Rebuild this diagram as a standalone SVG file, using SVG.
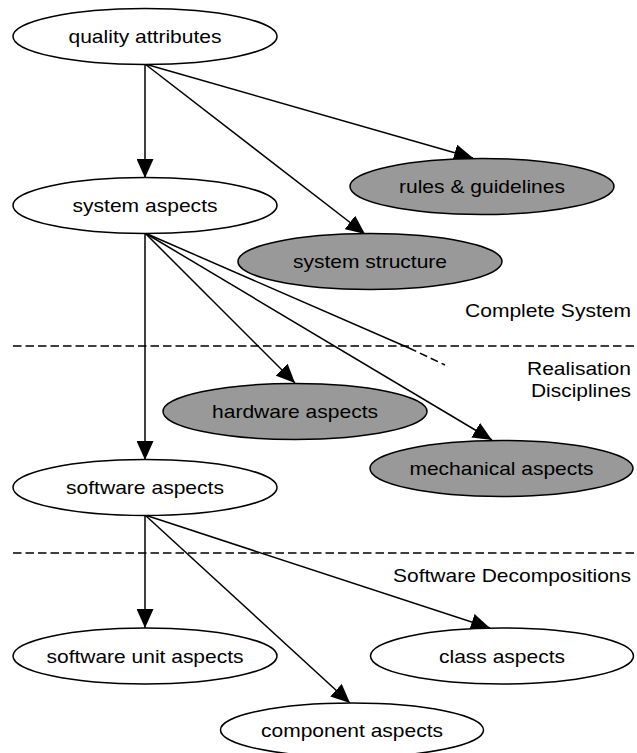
<svg xmlns="http://www.w3.org/2000/svg" width="637" height="753" viewBox="0 0 637 753">
  <style>
    .node ellipse { stroke: #000; stroke-width: 1.5; }
    .plain ellipse { fill: #fff; }
    .shaded ellipse { fill: #999; }
    text { font-family: "Liberation Sans", Arial, sans-serif; font-size: 19px; fill: #000; }
    .node text { text-anchor: middle; }
    .label { text-anchor: end; }
    .edge { stroke: #000; stroke-width: 1.5; fill: none; marker-end: url(#arrow); }
    .sep { stroke: #000; stroke-width: 1.5; stroke-dasharray: 8.5 4; fill: none; }
  </style>
  <defs>
    <marker id="arrow" markerUnits="userSpaceOnUse" viewBox="0 0 19 17" refX="19" refY="8.5" markerWidth="19" markerHeight="17" orient="auto">
      <path d="M0,0 L19,8.5 L0,17 z" fill="#000"/>
    </marker>
  </defs>

  <rect width="637" height="753" fill="#fff"/>

  <!-- layer separators -->
  <g id="separators">
    <line class="sep" x1="13" y1="346" x2="637" y2="346"/>
    <line class="sep" x1="13" y1="553" x2="637" y2="553"/>
  </g>

  <!-- layer labels -->
  <g id="layer-labels">
    <text class="label" x="631" y="317" textLength="166" lengthAdjust="spacingAndGlyphs">Complete System</text>
    <text class="label" x="631" y="375" textLength="104" lengthAdjust="spacingAndGlyphs">Realisation</text>
    <text class="label" x="631" y="397" textLength="100" lengthAdjust="spacingAndGlyphs">Disciplines</text>
    <text class="label" x="631" y="582" textLength="238" lengthAdjust="spacingAndGlyphs">Software Decompositions</text>
  </g>

  <!-- connectors -->
  <g id="connectors">
    <line class="edge" x1="145" y1="64" x2="145" y2="178"/>
    <line class="edge" x1="145" y1="64" x2="473" y2="158"/>
    <line class="edge" x1="145" y1="64" x2="365" y2="234"/>
    <line class="edge" x1="145" y1="233" x2="145" y2="460"/>
    <line class="edge" x1="145" y1="233" x2="295" y2="383"/>
    <line class="edge" x1="145" y1="233" x2="492" y2="440"/>
    <!-- open-ended link: solid above the separator, dashed below -->
    <line x1="145" y1="233" x2="409" y2="348" stroke="#000" stroke-width="1.5"/>
    <line x1="409" y1="348" x2="445" y2="365" stroke="#000" stroke-width="1.5" stroke-dasharray="8 4"/>
    <line class="edge" x1="145" y1="515" x2="145" y2="628"/>
    <line class="edge" x1="145" y1="515" x2="490" y2="628"/>
    <line class="edge" x1="145" y1="515" x2="350" y2="703"/>
  </g>

  <!-- nodes -->
  <g id="quality-attributes" class="node plain">
    <ellipse cx="145" cy="36.5" rx="132" ry="28"/>
    <text x="145" y="43" textLength="153" lengthAdjust="spacingAndGlyphs">quality attributes</text>
  </g>
  <g id="system-aspects" class="node plain">
    <ellipse cx="145" cy="205.5" rx="132" ry="28"/>
    <text x="145" y="212" textLength="145" lengthAdjust="spacingAndGlyphs">system aspects</text>
  </g>
  <g id="rules-guidelines" class="node shaded">
    <ellipse cx="482" cy="186.5" rx="132" ry="28"/>
    <text x="482" y="193" textLength="166" lengthAdjust="spacingAndGlyphs">rules &amp; guidelines</text>
  </g>
  <g id="system-structure" class="node shaded">
    <ellipse cx="370" cy="261.5" rx="132" ry="28"/>
    <text x="370" y="268" textLength="154" lengthAdjust="spacingAndGlyphs">system structure</text>
  </g>
  <g id="hardware-aspects" class="node shaded">
    <ellipse cx="295" cy="411.5" rx="132" ry="28"/>
    <text x="295" y="418" textLength="166" lengthAdjust="spacingAndGlyphs">hardware aspects</text>
  </g>
  <g id="mechanical-aspects" class="node shaded">
    <ellipse cx="501.5" cy="468.5" rx="131.5" ry="28"/>
    <text x="501.5" y="475" textLength="184" lengthAdjust="spacingAndGlyphs">mechanical aspects</text>
  </g>
  <g id="software-aspects" class="node plain">
    <ellipse cx="145" cy="487.5" rx="132" ry="28"/>
    <text x="145" y="494" textLength="158" lengthAdjust="spacingAndGlyphs">software aspects</text>
  </g>
  <g id="software-unit-aspects" class="node plain">
    <ellipse cx="145" cy="656" rx="132" ry="28"/>
    <text x="145" y="662.5" textLength="197" lengthAdjust="spacingAndGlyphs">software unit aspects</text>
  </g>
  <g id="class-aspects" class="node plain">
    <ellipse cx="502" cy="656" rx="131.5" ry="28"/>
    <text x="502" y="662.5" textLength="126" lengthAdjust="spacingAndGlyphs">class aspects</text>
  </g>
  <g id="component-aspects" class="node plain">
    <ellipse cx="352" cy="730" rx="131.5" ry="27"/>
    <text x="352" y="736.5" textLength="182" lengthAdjust="spacingAndGlyphs">component aspects</text>
  </g>
</svg>
